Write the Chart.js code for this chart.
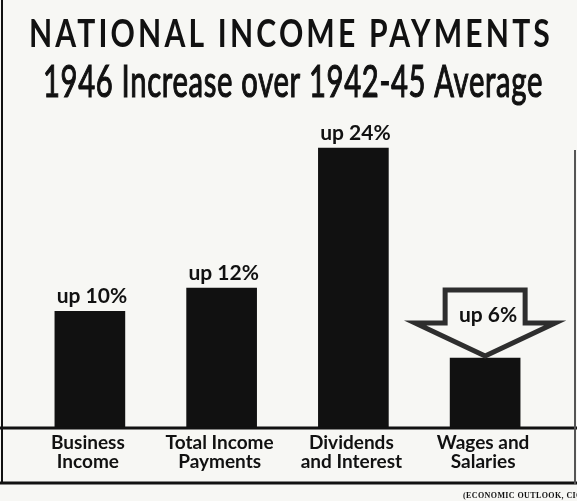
<!DOCTYPE html>
<html>
<head>
<meta charset="utf-8">
<title>National Income Payments</title>
<script src="https://cdn.jsdelivr.net/npm/chart.js@4"></script>
<style>
  html, body { margin: 0; padding: 0; background: #f7f7f4; }
  #wrap { position: relative; width: 577px; height: 501px; }
</style>
</head>
<body>
<div id="wrap"><canvas id="income-payments"></canvas></div>
<script>
/**
 * @file
 * National income payments: 1946 increase over the 1942-45 average.
 */

const titleText = 'NATIONAL INCOME PAYMENTS';
const subtitleText = '1946 Increase over 1942-45 Average';
const categories = [
  ['Business', 'Income'],
  ['Total Income', 'Payments'],
  ['Dividends', 'and Interest'],
  ['Wages and', 'Salaries'],
];
const increases = [10, 12, 24, 6];
// Bar that gets the outlined pointer arrow instead of a plain label.
const arrowIndex = 3;
const creditText = '(ECONOMIC OUTLOOK, CIO)';

const ink = '#111';

let valueLabel = (v) => 'up ' + v + '%';

let posterPlugin = {
  id: 'poster',
  afterDatasetsDraw: function(chart) {
    let ctx = chart.ctx;
    let bars = chart.getDatasetMeta(0).data;

    ctx.save();
    ctx.fillStyle = ink;
    ctx.textAlign = 'center';
    ctx.textBaseline = 'alphabetic';
    ctx.font = 'bold 21px Lato';

    bars.forEach((bar, i) => {
      let text = valueLabel(increases[i]);
      if (i === arrowIndex) {
        // Hollow down arrow whose tip rests on the bar top.
        let x = bar.x;
        let y = bar.y;
        ctx.beginPath();
        ctx.moveTo(x - 40, y - 68);
        ctx.lineTo(x + 40, y - 68);
        ctx.lineTo(x + 40, y - 35);
        ctx.lineTo(x + 70, y - 35);
        ctx.lineTo(x, y - 2);
        ctx.lineTo(x - 70, y - 35);
        ctx.lineTo(x - 40, y - 35);
        ctx.closePath();
        ctx.lineWidth = 5;
        ctx.lineJoin = 'miter';
        ctx.strokeStyle = '#2e2e2e';
        ctx.stroke();
        ctx.fillText(text, x + 3, y - 36);
      }
      else {
        ctx.fillText(text, bar.x + 2, bar.y - 8);
      }
    });
    ctx.restore();
  },
  afterDraw: function(chart) {
    let ctx = chart.ctx;
    let area = chart.chartArea;
    let xScale = chart.scales.x;
    let w = chart.width;

    ctx.save();
    ctx.fillStyle = ink;
    ctx.strokeStyle = ink;
    ctx.textAlign = 'center';
    ctx.textBaseline = 'alphabetic';

    ctx.font = 'bold 38px Lato';
    ctx.letterSpacing = '4px';
    ctx.fillText(titleText, 291, 47, 524);

    // Subtitle is a medium weight: regular face with a thin outline.
    ctx.letterSpacing = '1px';
    ctx.font = '44px Lato';
    ctx.lineWidth = 1.2;
    ctx.fillText(subtitleText, 293, 97, 500);
    ctx.strokeText(subtitleText, 293, 97, 500);
    ctx.letterSpacing = '0px';

    // Base line under the bars and frame of the panel.
    ctx.lineWidth = 3;
    ctx.beginPath();
    ctx.moveTo(0, area.bottom);
    ctx.lineTo(w, area.bottom);
    ctx.moveTo(0, 483);
    ctx.lineTo(w, 483);
    ctx.stroke();

    ctx.lineWidth = 2;
    ctx.beginPath();
    ctx.moveTo(2, 0);
    ctx.lineTo(2, 484);
    ctx.stroke();

    ctx.strokeStyle = '#555';
    ctx.beginPath();
    ctx.moveTo(575, 150);
    ctx.lineTo(575, 484);
    ctx.stroke();

    ctx.font = 'bold 19px Lato';
    categories.forEach((lines, i) => {
      let x = xScale.getPixelForValue(i) - 2;
      lines.forEach((line, j) => {
        ctx.fillText(line, x, area.bottom + 21 + j * 19);
      });
    });

    ctx.textAlign = 'left';
    ctx.font = 'bold 8px "Liberation Serif"';
    ctx.letterSpacing = '0.4px';
    ctx.fillText(creditText, 463, 498);
    ctx.restore();
  },
};

let config = {
  type: 'bar',
  data: {
    labels: categories,
    datasets: [
      {
        data: increases,
        backgroundColor: ink,
        borderWidth: 0,
        barThickness: 70,
      },
    ],
  },
  options: {
    responsive: true,
    maintainAspectRatio: false,
    animation: false,
    devicePixelRatio: 1,
    layout: {
      padding: {top: 78, bottom: 73, left: 24, right: 26},
    },
    plugins: {
      legend: {display: false},
      tooltip: {enabled: false},
      title: {display: false},
    },
    scales: {
      x: {display: false},
      y: {display: false, min: 0, max: 30},
    },
  },
  plugins: [posterPlugin],
};

let chart = new Chart(document.getElementById('income-payments'), config);
</script>
</body>
</html>
